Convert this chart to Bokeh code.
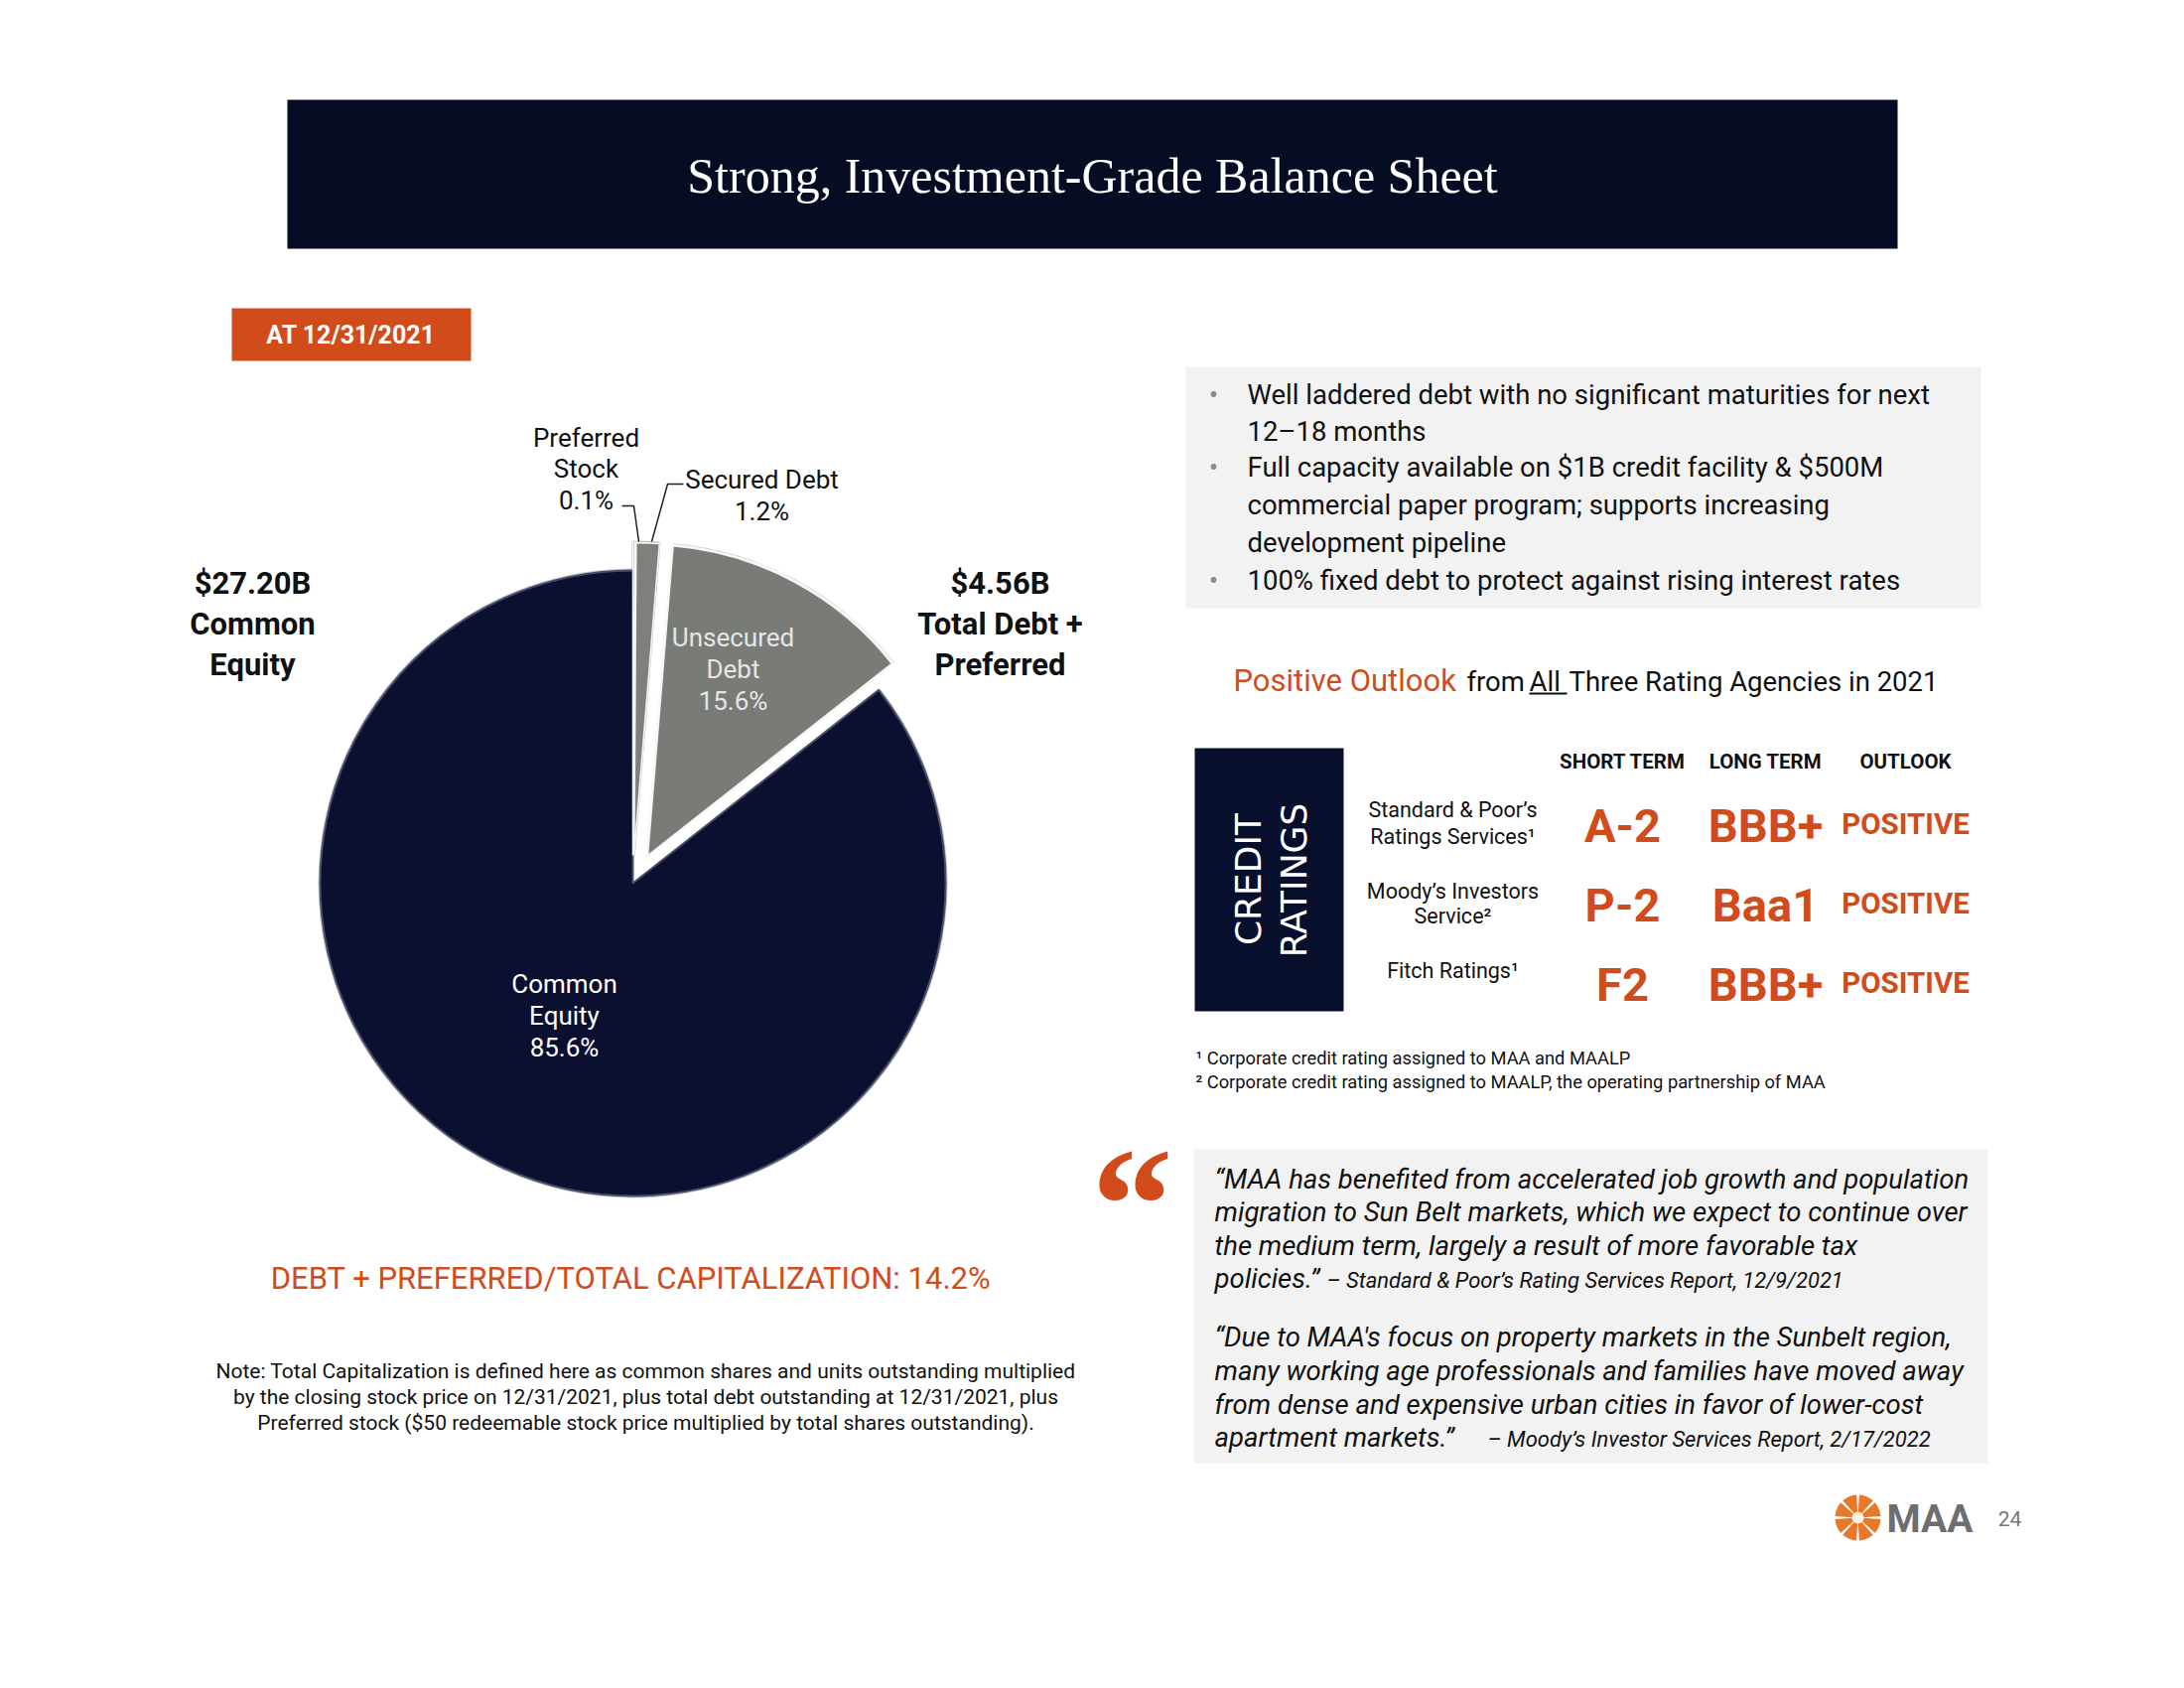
import numpy as np
from bokeh.plotting import figure
from bokeh.models import Range1d
from bokeh.core.properties import value
from bokeh.embed import file_html
from bokeh.resources import INLINE

# ---------------- data ----------------
title = "Strong, Investment-Grade Balance Sheet"
as_of = "AT 12/31/2021"

# pie slices, clockwise from 12 o'clock
slice_names = ["Preferred Stock", "Secured Debt", "Unsecured Debt", "Common Equity"]
slice_share = [0.1, 1.2, 13.1, 85.6]          # share of the circle as drawn (%)
slice_label_pct = ["0.1%", "1.2%", "15.6%", "85.6%"]
slice_colors = ["#b9bbb7", "#7d807b", "#787b76", "#0c1030"]

equity_total = ["$27.20B", "Common", "Equity"]
debt_total = ["$4.56B", "Total Debt +", "Preferred"]
cap_ratio = "DEBT + PREFERRED/TOTAL CAPITALIZATION: 14.2%"
note_lines = [
    "Note: Total Capitalization is defined here as common shares and units outstanding multiplied",
    "by the closing stock price on 12/31/2021, plus total debt outstanding at 12/31/2021, plus",
    "Preferred stock ($50 redeemable stock price multiplied by total shares outstanding).",
]

bullets = [
    ["Well laddered debt with no significant maturities for next", "12\u201318 months"],
    ["Full capacity available on $1B credit facility & $500M",
     "commercial paper program; supports increasing", "development pipeline"],
    ["100% fixed debt to protect against rising interest rates"],
]

rating_headers = ["SHORT TERM", "LONG TERM", "OUTLOOK"]
agencies = [["Standard & Poor\u2019s", "Ratings Services\u00b9"],
            ["Moody\u2019s Investors", "Service\u00b2"],
            ["Fitch Ratings\u00b9"]]
short_term = ["A-2", "P-2", "F2"]
long_term = ["BBB+", "Baa1", "BBB+"]
outlook = ["POSITIVE", "POSITIVE", "POSITIVE"]
footnotes = ["\u00b9 Corporate credit rating assigned to MAA and MAALP",
             "\u00b2 Corporate credit rating assigned to MAALP, the operating partnership of MAA"]

quote1 = ["\u201cMAA has benefited from accelerated job growth and population",
          "migration to Sun Belt markets, which we expect to continue over",
          "the medium term, largely a result of more favorable tax",
          "policies.\u201d"]
attr1 = "\u2013 Standard & Poor\u2019s Rating Services Report, 12/9/2021"
quote2 = ["\u201cDue to MAA's focus on property markets in the Sunbelt region,",
          "many working age professionals and families have moved away",
          "from dense and expensive urban cities in favor of lower-cost",
          "apartment markets.\u201d"]
attr2 = "\u2013 Moody\u2019s Investor Services Report, 2/17/2022"
page_no = "24"

# ---------------- styles ----------------
NAVY = "#060c24"
ORANGE = "#d24b1a"
GRAY_BOX = "#f2f2f2"
FONT = "Roboto"

W, H = 2184, 1684
p = figure(width=W, height=H, x_range=Range1d(0, W), y_range=Range1d(0, H),
           output_backend="svg", toolbar_location=None, min_border=0)
p.axis.visible = False
p.xgrid.visible = False
p.ygrid.visible = False
p.outline_line_color = None
p.background_fill_color = "white"
p.border_fill_color = "white"


def Y(py):
    return H - py


def T(x, y, s, size, color="#111111", align="center", baseline="middle",
      font=FONT, style="normal", angle=0.0):
    p.text(x=[x], y=[Y(y)], text=[s], text_align=align, text_baseline=baseline,
           text_font_size=f"{size}px", text_color=color, text_font=value(font),
           text_font_style=style, angle=angle)


def box(l, r, t, b, color):
    p.quad(left=[l], right=[r], top=[Y(t)], bottom=[Y(b)], fill_color=color, line_color=None)


# title bar
box(289, 1911, 100, 250, NAVY)
T(1100, 176, title, 50, color="white", font="Liberation Serif")

# date tag
box(233, 474, 310, 363, ORANGE)
T(353, 337, as_of, 25, color="white", style="bold")

# ---------------- pie ----------------
cx, cy, R = 637, 889, 315
explode = [28, 28, 30, 0]
cum = np.concatenate([[0], np.cumsum(slice_share)])
geo = []
for i, name in enumerate(slice_names):
    a0 = 90 - cum[i] * 3.6
    a1 = 90 - cum[i + 1] * 3.6
    mid = np.deg2rad((a0 + a1) / 2)
    ox = cx + explode[i] * np.cos(mid)
    oy = Y(cy) + explode[i] * np.sin(mid)
    geo.append((ox, oy, a0, a1))
    edge = "#4a4e66" if i == 3 else "#a9aba7"
    p.wedge(x=[ox], y=[oy], radius=R + 2, start_angle=a1, end_angle=a0,
            start_angle_units="deg", end_angle_units="deg",
            fill_color="#9a9cab", fill_alpha=0.55, line_color=None)
    p.wedge(x=[ox], y=[oy], radius=R, start_angle=a1, end_angle=a0,
            start_angle_units="deg", end_angle_units="deg",
            fill_color=slice_colors[i], line_color=edge, line_width=2)

# white separators
sep_w = [1.5, 1.5, 3]
for i in range(3):
    ox, oy, a0, a1 = geo[i]
    p.wedge(x=[ox], y=[oy], radius=R, start_angle=a1, end_angle=a0,
            start_angle_units="deg", end_angle_units="deg",
            fill_color=None, line_color="white", line_width=sep_w[i], line_alpha=0.9)

# labels inside
for k, s in enumerate(["Unsecured", "Debt", slice_label_pct[2]]):
    T(738, 641 + k * 32, s, 26, color="#e6e6e6")
for k, s in enumerate(["Common", "Equity", slice_label_pct[3]]):
    T(568, 990 + k * 32, s, 26, color="white")

# outside labels with leader lines
for k, s in enumerate(["Preferred", "Stock", slice_label_pct[0]]):
    T(590, 440 + k * 31.5, s, 26, color="#111111")
for k, s in enumerate(["Secured Debt", slice_label_pct[1]]):
    T(767, 482 + k * 32, s, 26, color="#111111")
p.line(x=[626, 638, 643], y=[Y(509), Y(509), Y(545)], line_color="#222222", line_width=1.5)
p.line(x=[688, 672, 656], y=[Y(487), Y(487), Y(545)], line_color="#222222", line_width=1.5)

for k, s in enumerate(equity_total):
    T(254, 587 + k * 41, s, 31, color="#111111", style="bold")
for k, s in enumerate(debt_total):
    T(1007, 587 + k * 41, s, 31, color="#111111", style="bold")

T(635, 1287, cap_ratio, 31, color=ORANGE)
for k, s in enumerate(note_lines):
    T(650, 1380 + k * 26, s, 21, color="#111111")

# ---------------- bullets ----------------
box(1194, 1995, 369, 612, GRAY_BOX)
ly = [397, 434, 470, 508, 546, 584]
li = 0
for b in bullets:
    T(1222, ly[li], "\u2022", 28, color="#8a8a8a")
    for line in b:
        T(1256, ly[li], line, 27.5, align="left")
        li += 1

# positive outlook line
T(1242, 685, "Positive Outlook", 31, color=ORANGE, align="left")
T(1477, 686, "from", 27.5, align="left")
T(1540, 686, "All", 27.5, align="left")
T(1580, 686, "Three Rating Agencies in 2021", 27.5, align="left")
p.segment(x0=[1540], y0=[Y(698)], x1=[1578], y1=[Y(698)], line_color="#111111", line_width=2)

# ---------------- ratings ----------------
box(1203, 1353, 753, 1018, "#080f2d")
T(1257, 885, "CREDIT", 36, color="white", font="DejaVu Sans", angle=np.pi / 2)
T(1303, 886, "RATINGS", 36, color="white", font="DejaVu Sans", angle=np.pi / 2)

col_x = [1634, 1778, 1919]
for x, h in zip(col_x, rating_headers):
    T(x, 766, h, 20.5, style="bold")

row_y = [831, 911, 991]
agency_y = [[815, 842], [897, 922], [977]]
for r in range(3):
    for line, yy in zip(agencies[r], agency_y[r]):
        T(1463, yy, line, 21.5)
    T(col_x[0], row_y[r], short_term[r], 47, color=ORANGE, style="bold")
    T(col_x[1], row_y[r], long_term[r], 47, color=ORANGE, style="bold")
    T(col_x[2], row_y[r] - 2, outlook[r], 29.5, color=ORANGE, style="bold")

for k, s in enumerate(footnotes):
    T(1204, 1065 + k * 24, s, 18.3, align="left")

# ---------------- quotes ----------------
box(1202, 2002, 1157, 1473, GRAY_BOX)
T(1140, 1212, "\u201c", 164, color=ORANGE, font="Liberation Serif", style="bold",
  baseline="alphabetic")
q1y = [1187, 1220, 1254, 1287]
for s, yy in zip(quote1, q1y):
    T(1223, yy, s, 27.5, align="left", style="italic")
T(1336, 1289, attr1, 22, align="left", style="italic")
q2y = [1346, 1380, 1414, 1447]
for s, yy in zip(quote2, q2y):
    T(1223, yy, s, 27.5, align="left", style="italic")
T(1498, 1449, attr2, 22, align="left", style="italic")

# ---------------- logo ----------------
lx, lyy = 1871, Y(1528)
ang = np.arange(8) * 45 + 22.5
p.annular_wedge(x=[lx] * 8, y=[lyy] * 8, inner_radius=5, outer_radius=23,
                start_angle=list(ang - 19), end_angle=list(ang + 19),
                start_angle_units="deg", end_angle_units="deg",
                fill_color="#e8782a", line_color=None)
p.circle(x=[lx], y=[lyy], radius=6, fill_color="#fff4e0", line_color=None)
T(1900, 1529, "MAA", 39, color="#6d6e71", align="left", style="bold")
T(2024, 1529, page_no, 21, color="#777777")

open("out.html", "w").write(file_html(p, INLINE))
